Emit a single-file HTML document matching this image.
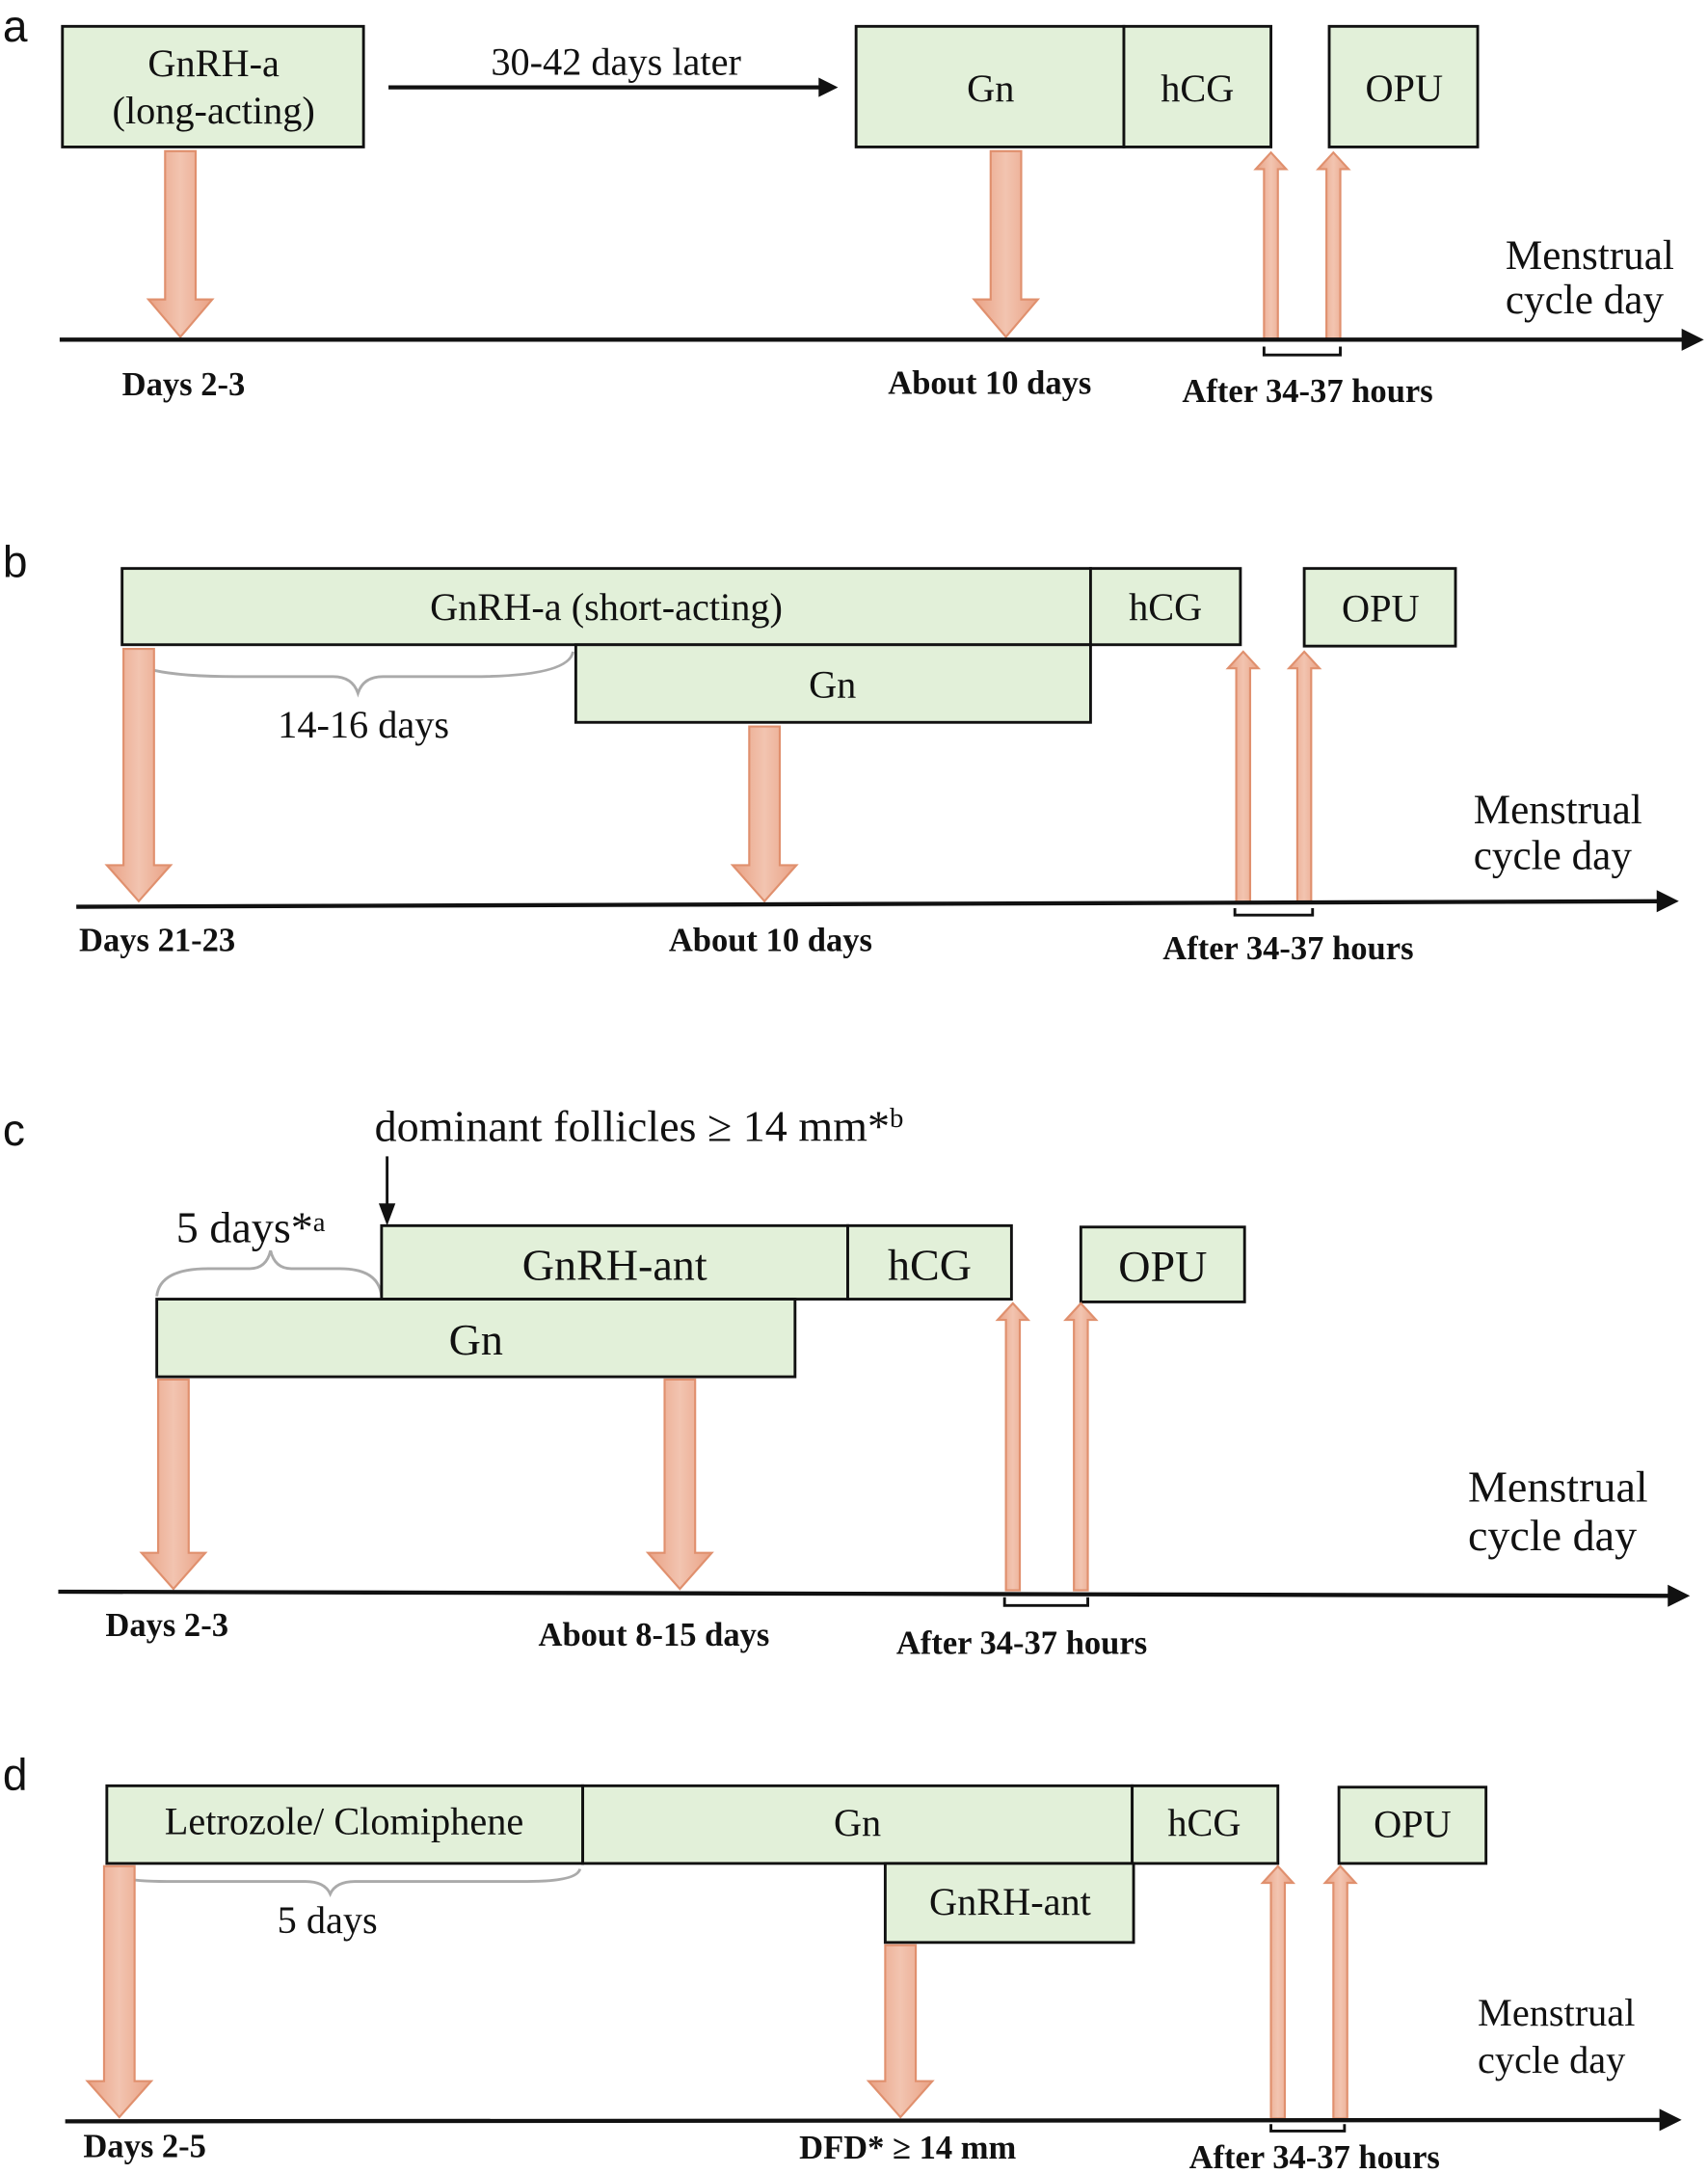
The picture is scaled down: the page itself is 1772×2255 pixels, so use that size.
<!DOCTYPE html>
<html><head><meta charset="utf-8"><style>
html,body{margin:0;padding:0;background:#fff}
svg{display:block}
text{font-family:"Liberation Serif",serif;fill:#111}
.l{font-family:"Liberation Sans",sans-serif;font-size:32px}
.b{font-weight:bold;font-size:24px}
.bx{fill:#e2f0d9;stroke:#111;stroke-width:2}
.ar{fill:url(#g);stroke:#e0906e;stroke-width:1.5}
.ax{stroke:#111;stroke-width:3}
.br{fill:none;stroke:#aaa;stroke-width:2}
.bk{fill:none;stroke:#111;stroke-width:2}
</style></head><body>
<svg width="1772" height="2255" viewBox="0 0 1231 1568" preserveAspectRatio="none" xmlns="http://www.w3.org/2000/svg">
<defs>
<linearGradient id="g" x1="0" y1="0" x2="1" y2="0">
<stop offset="0" stop-color="#e9a184"/><stop offset="0.5" stop-color="#f2c4b0"/><stop offset="1" stop-color="#e9a184"/>
</linearGradient>
<marker id="m" markerWidth="10" markerHeight="10" refX="9" refY="5" orient="auto" markerUnits="userSpaceOnUse"><path d="M0,0 L10,5 L0,10 z" fill="#111"/></marker>
</defs>

<!-- Panel a -->
<text class="l" x="2" y="30">a</text>
<rect class="bx" x="45" y="19" width="217" height="87"/>
<text x="154" y="55" font-size="28" text-anchor="middle">GnRH-a</text>
<text x="154" y="89" font-size="28" text-anchor="middle">(long-acting)</text>
<line x1="280" y1="63" x2="596" y2="63" stroke="#111" stroke-width="3"/>
<path d="M590,56 L604,63 L590,70 z" fill="#111"/>
<text x="444" y="54" font-size="28" text-anchor="middle">30-42 days later</text>
<rect class="bx" x="617" y="19" width="193" height="87"/>
<rect class="bx" x="810" y="19" width="106" height="87"/>
<rect class="bx" x="958" y="19" width="107" height="87"/>
<text x="714" y="73" font-size="28" text-anchor="middle">Gn</text>
<text x="863" y="73" font-size="28" text-anchor="middle">hCG</text>
<text x="1012" y="73" font-size="28" text-anchor="middle">OPU</text>
<polygon class="ar" points="119,109 141,109 141,216 153,216 130,243 107,216 119,216"/>
<polygon class="ar" points="714,109 736,109 736,216 748,216 725,243 702,216 714,216"/>
<polygon class="ar" points="911,245 921,245 921,122 927,122 916,110 905,122 911,122"/>
<polygon class="ar" points="956,245 966,245 966,122 972,122 961,110 950,122 956,122"/>
<line class="ax" x1="43" y1="245" x2="1218" y2="245"/>
<path d="M1212,237 L1228,245 L1212,253 z" fill="#111"/>
<path class="bk" d="M911,250 V256 H966 V250"/>
<text x="1085" y="194" font-size="30">Menstrual</text>
<text x="1085" y="226" font-size="30">cycle day</text>
<text class="b" x="88" y="285">Days 2-3</text>
<text class="b" x="640" y="284">About 10 days</text>
<text class="b" x="852" y="290">After 34-37 hours</text>

<!-- Panel b -->
<text class="l" x="2" y="416">b</text>
<rect class="bx" x="88" y="410" width="698" height="55"/>
<rect class="bx" x="786" y="410" width="108" height="55"/>
<rect class="bx" x="940" y="410" width="109" height="56"/>
<rect class="bx" x="415" y="465" width="371" height="56"/>
<text x="437" y="447" font-size="28" text-anchor="middle">GnRH-a (short-acting)</text>
<text x="840" y="447" font-size="28" text-anchor="middle">hCG</text>
<text x="995" y="448" font-size="28" text-anchor="middle">OPU</text>
<text x="600" y="503" font-size="28" text-anchor="middle">Gn</text>
<path class="br" d="M90,470 Q92,488 170,488 L240,488 Q254,488 258,500 Q262,488 276,488 L340,488 Q410,488 413,470"/>
<text x="262" y="532" font-size="28" text-anchor="middle">14-16 days</text>
<polygon class="ar" points="89,468 111,468 111,624 123,624 100,650 77,624 89,624"/>
<polygon class="ar" points="540,524 562,524 562,624 574,624 551,650 528,624 540,624"/>
<polygon class="ar" points="891,651 901,651 901,482 907,482 896,470 885,482 891,482"/>
<polygon class="ar" points="935,651 945,651 945,482 951,482 940,470 929,482 935,482"/>
<line class="ax" x1="55" y1="654" x2="1200" y2="650"/>
<path d="M1194,642 L1210,650 L1194,658 z" fill="#111"/>
<path class="bk" d="M890,655 V660 H946 V655"/>
<text x="1062" y="594" font-size="30">Menstrual</text>
<text x="1062" y="627" font-size="30">cycle day</text>
<text class="b" x="57" y="686">Days 21-23</text>
<text class="b" x="482" y="686">About 10 days</text>
<text class="b" x="838" y="692">After 34-37 hours</text>

<!-- Panel c -->
<text class="l" x="2" y="826">c</text>
<text x="270" y="823" font-size="32">dominant follicles ≥ 14 mm*<tspan font-size="20" dy="-10">b</tspan></text>
<line x1="279" y1="834" x2="279" y2="872" stroke="#111" stroke-width="2"/>
<path d="M273,868 L279,884 L285,868 z" fill="#111"/>
<text x="127" y="896" font-size="32">5 days*<tspan font-size="20" dy="-8">a</tspan></text>
<path class="br" d="M113,935 Q115,915 150,915 L180,915 Q192,915 195,902 Q198,915 210,915 L245,915 Q273,915 275,935"/>
<rect class="bx" x="275" y="884" width="336" height="53"/>
<rect class="bx" x="611" y="884" width="118" height="53"/>
<rect class="bx" x="779" y="885" width="118" height="54"/>
<rect class="bx" x="113" y="937" width="460" height="56"/>
<text x="443" y="923" font-size="32" text-anchor="middle">GnRH-ant</text>
<text x="670" y="923" font-size="32" text-anchor="middle">hCG</text>
<text x="838" y="924" font-size="32" text-anchor="middle">OPU</text>
<text x="343" y="977" font-size="32" text-anchor="middle">Gn</text>
<polygon class="ar" points="114,995 136,995 136,1120 148,1120 125,1146 102,1120 114,1120"/>
<polygon class="ar" points="479,995 501,995 501,1120 513,1120 490,1146 467,1120 479,1120"/>
<polygon class="ar" points="725,1147 735,1147 735,952 741,952 730,940 719,952 725,952"/>
<polygon class="ar" points="774,1147 784,1147 784,952 790,952 779,940 768,952 774,952"/>
<line class="ax" x1="42" y1="1148" x2="1208" y2="1151"/>
<path d="M1202,1143 L1218,1151 L1202,1159 z" fill="#111"/>
<path class="bk" d="M724,1152 V1158 H784 V1152"/>
<text x="1058" y="1083" font-size="32">Menstrual</text>
<text x="1058" y="1118" font-size="32">cycle day</text>
<text class="b" x="76" y="1180" font-size="25">Days 2-3</text>
<text class="b" x="388" y="1187" font-size="25">About 8-15 days</text>
<text class="b" x="646" y="1193" font-size="25">After 34-37 hours</text>

<!-- Panel d -->
<text class="l" x="2" y="1291">d</text>
<rect class="bx" x="77" y="1288" width="343" height="56"/>
<rect class="bx" x="420" y="1288" width="396" height="56"/>
<rect class="bx" x="816" y="1288" width="105" height="56"/>
<rect class="bx" x="965" y="1289" width="106" height="55"/>
<rect class="bx" x="638" y="1344" width="179" height="57"/>
<text x="248" y="1323" font-size="28" text-anchor="middle">Letrozole/ Clomiphene</text>
<text x="618" y="1324" font-size="28" text-anchor="middle">Gn</text>
<text x="868" y="1324" font-size="28" text-anchor="middle">hCG</text>
<text x="1018" y="1325" font-size="28" text-anchor="middle">OPU</text>
<text x="728" y="1381" font-size="28" text-anchor="middle">GnRH-ant</text>
<path class="br" d="M77,1348 Q80,1357 120,1357 L220,1357 Q234,1357 238,1366 Q242,1357 256,1357 L380,1357 Q416,1357 418,1348"/>
<text x="236" y="1394" font-size="28" text-anchor="middle">5 days</text>
<polygon class="ar" points="75,1346 97,1346 97,1501 109,1501 86,1527 63,1501 75,1501"/>
<polygon class="ar" points="638,1403 660,1403 660,1501 672,1501 649,1527 626,1501 638,1501"/>
<polygon class="ar" points="916,1528 926,1528 926,1358 932,1358 921,1346 910,1358 916,1358"/>
<polygon class="ar" points="961,1528 971,1528 971,1358 977,1358 966,1346 955,1358 961,1358"/>
<line class="ax" x1="47" y1="1530" x2="1202" y2="1529"/>
<path d="M1196,1521 L1212,1529 L1196,1537 z" fill="#111"/>
<path class="bk" d="M916,1532 V1537 H969 V1532"/>
<text x="1065" y="1461" font-size="28">Menstrual</text>
<text x="1065" y="1495" font-size="28">cycle day</text>
<text class="b" x="60" y="1556" font-size="22">Days 2-5</text>
<text class="b" x="576" y="1557" font-size="22">DFD* ≥ 14 mm</text>
<text class="b" x="857" y="1564" font-size="22">After 34-37 hours</text>
</svg>
</body></html>
